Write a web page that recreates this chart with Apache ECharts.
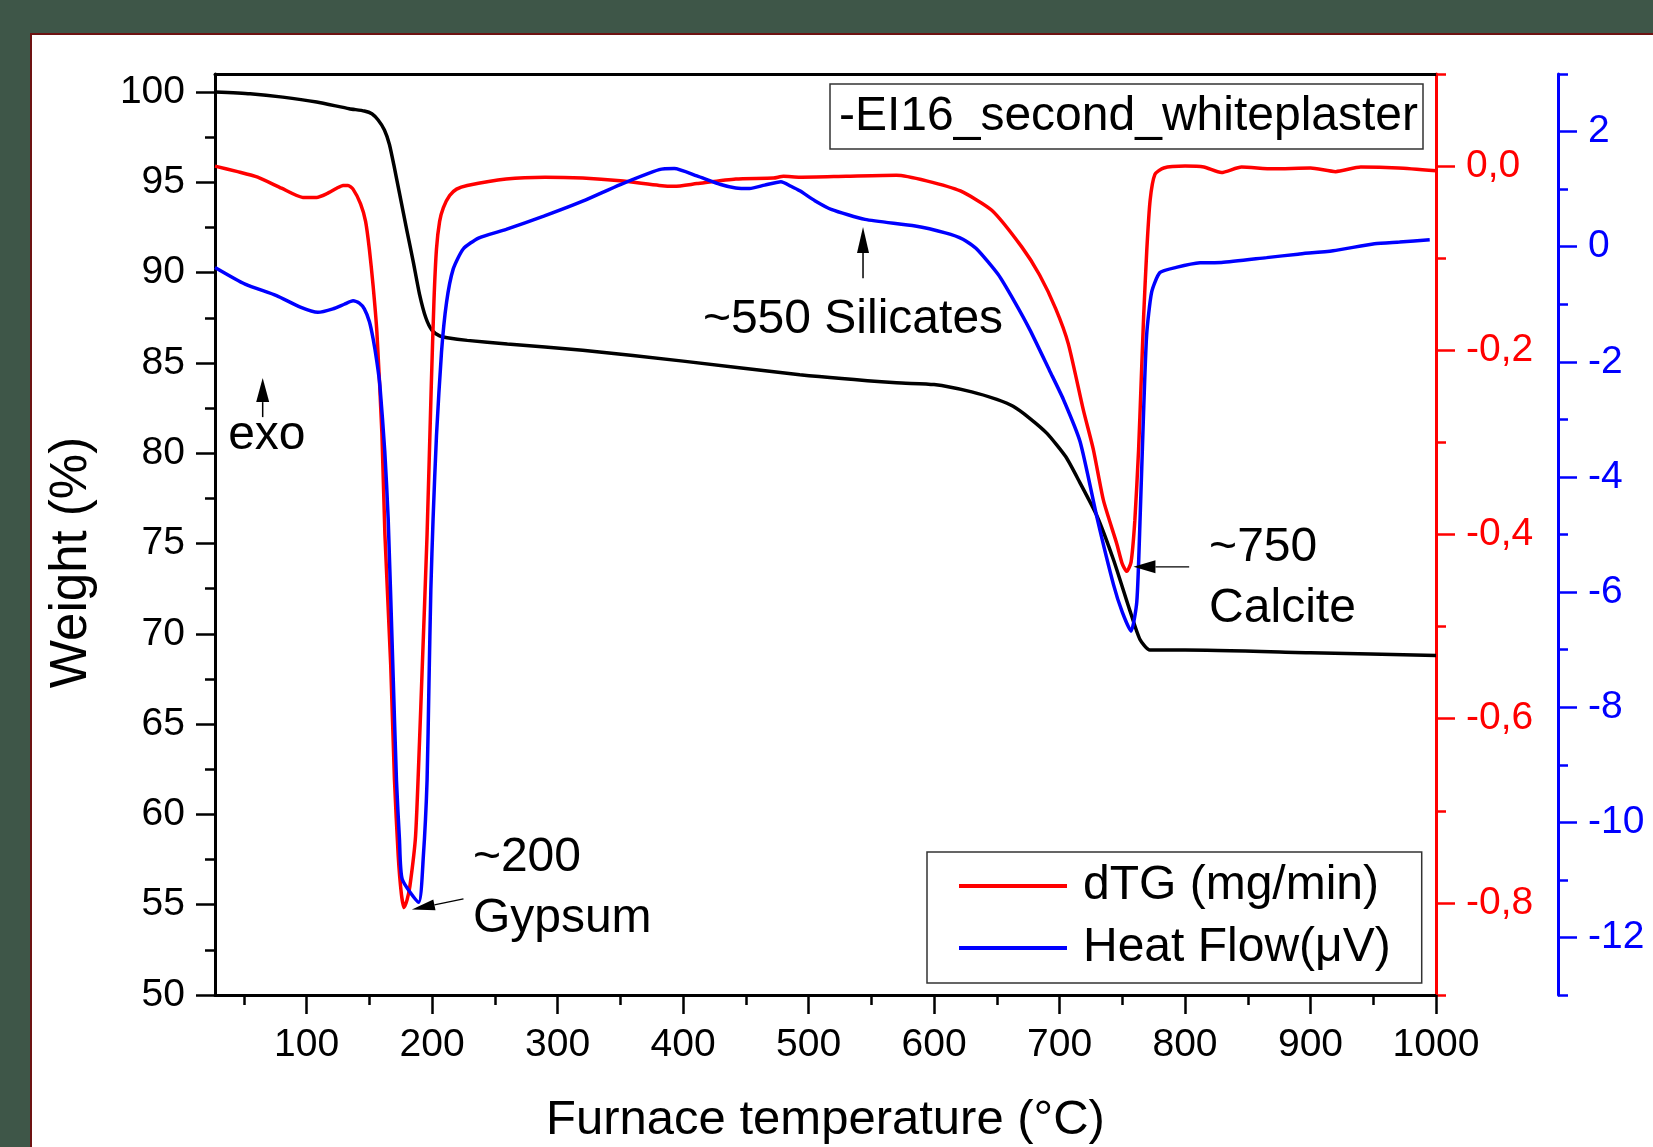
<!DOCTYPE html>
<html>
<head>
<meta charset="utf-8">
<script src="https://cdn.jsdelivr.net/npm/echarts@6/dist/echarts.min.js"></script>
<style>
html,body{margin:0;padding:0;width:1653px;height:1147px;overflow:hidden;background:#3e5648;}
#panel{position:absolute;left:30px;top:33px;width:1623px;height:1114px;background:#fff;border-left:2px solid #6e1212;border-top:2px solid #6e1212;box-sizing:border-box;}
#c{position:absolute;left:0;top:0;width:1653px;height:1147px;}
</style>
</head>
<body>
<div id="panel"></div>
<div id="c"></div>
<script>
// ---------- data ----------
const tempW = [27, 55, 81, 108, 134, 146, 152, 157, 162, 166, 170, 174, 180, 185, 190, 195, 200, 206, 212, 228, 260, 320, 400, 493, 570, 600, 630, 650, 663, 676, 690, 705, 716, 730, 743, 756, 764, 772, 800, 900, 1000];
const weight = [100.0, 99.9, 99.72, 99.45, 99.08, 98.95, 98.8, 98.45, 97.9, 97.1, 95.8, 94.4, 92.3, 90.6, 88.8, 87.5, 86.8, 86.5, 86.4, 86.25, 86.05, 85.7, 85.1, 84.35, 83.9, 83.8, 83.4, 82.98, 82.6, 81.95, 81.1, 79.8, 78.4, 76.5, 74.1, 71.3, 69.7, 69.1, 69.1, 68.95, 68.8];

const tempD = [27, 45, 61, 80, 97, 108, 116, 124, 129, 133, 137, 143, 147, 150, 153, 156, 160, 162.4, 167, 170, 173, 175.5, 177.6, 180, 182.3, 186.8, 190, 192, 196, 199.4, 201.5, 203.5, 206, 209, 214, 219.5, 228, 259, 290, 320, 350, 381, 393, 411, 442, 472, 480, 493, 530, 570, 594, 621, 646, 670, 684, 697, 707, 719, 727, 735, 745.6, 750, 753.6, 757, 760, 763, 765, 767, 769.5, 772.2, 776, 783, 800, 815, 829, 845, 870, 900, 920, 940, 970, 1000];
const dtg = [0.0, -0.006, -0.012, -0.024, -0.034, -0.034, -0.030, -0.024, -0.021, -0.021, -0.025, -0.041, -0.06, -0.09, -0.13, -0.18, -0.29, -0.40, -0.541, -0.666, -0.749, -0.79, -0.805, -0.797, -0.782, -0.728, -0.624, -0.55, -0.40, -0.236, -0.146, -0.09, -0.06, -0.045, -0.032, -0.025, -0.021, -0.014, -0.012, -0.013, -0.016, -0.021, -0.022, -0.019, -0.014, -0.013, -0.011, -0.012, -0.011, -0.010, -0.016, -0.027, -0.048, -0.088, -0.118, -0.155, -0.193, -0.265, -0.308, -0.363, -0.41, -0.432, -0.44, -0.43, -0.385, -0.308, -0.236, -0.164, -0.092, -0.037, -0.009, -0.002, 0.0, -0.001, -0.007, -0.001, -0.003, -0.002, -0.006, -0.001, -0.002, -0.005];

const tempH = [27, 51, 76, 95, 109, 121, 130, 137, 142, 146, 150, 153, 156, 158.4, 162.3, 165, 168.6, 171.6, 174, 176.2, 189.3, 193, 196, 197.5, 199, 200.8, 203.5, 207.5, 211.5, 216.8, 224.8, 237, 259, 289, 320, 350, 381, 393, 411, 430, 442, 453, 465, 478, 486, 493, 505, 518, 545, 585, 609, 623, 634, 651, 664, 676.5, 692, 703, 716.4, 730, 743, 750, 757, 761.6, 764.2, 766.8, 769.4, 773.4, 780, 793, 812, 829, 865, 890, 918, 951, 971, 995];
const heat = [-0.36, -0.65, -0.85, -1.05, -1.14, -1.08, -1.0, -0.94, -0.98, -1.08, -1.3, -1.6, -2.0, -2.41, -3.56, -4.72, -7.2, -9.27, -10.3, -10.99, -11.39, -10.6, -9.27, -7.6, -5.96, -4.72, -3.28, -1.83, -0.97, -0.39, -0.04, 0.15, 0.30, 0.53, 0.79, 1.08, 1.34, 1.36, 1.23, 1.08, 1.02, 1.01, 1.07, 1.13, 1.05, 0.97, 0.80, 0.65, 0.475, 0.36, 0.24, 0.13, -0.04, -0.48, -0.95, -1.45, -2.15, -2.65, -3.39, -4.72, -5.87, -6.35, -6.68, -6.16, -4.72, -2.99, -1.54, -0.79, -0.45, -0.36, -0.28, -0.275, -0.19, -0.13, -0.07, 0.05, 0.08, 0.12];

// tick values
const xMajor = [100, 200, 300, 400, 500, 600, 700, 800, 900, 1000];
const xMinor = [50, 150, 250, 350, 450, 550, 650, 750, 850, 950];
const wMajor = [50, 55, 60, 65, 70, 75, 80, 85, 90, 95, 100];
const wMinor = [52.5, 57.5, 62.5, 67.5, 72.5, 77.5, 82.5, 87.5, 92.5, 97.5];
const dMajor = [-0.8, -0.6, -0.4, -0.2, 0];
const dMinor = [-0.9, -0.7, -0.5, -0.3, -0.1, 0.1];
const hMajor = [-12, -10, -8, -6, -4, -2, 0, 2];
const hMinor = [-13, -11, -9, -7, -5, -3, -1, 1, 3];

const sampleName = '-EI16_second_whiteplaster';
const dtgName = 'dTG (mg/min)';
const heatName = 'Heat Flow(μV)';

// ---------- chart ----------
const FONT = '"Liberation Sans", Arial, sans-serif';
const TICK_FS = 39;
const pairs = (xs, ys) => xs.map((x, i) => [x, ys[i]]);
const plain = v => String(Math.round(v * 1000) / 1000);

function majorAxis(color, values, extra) {
  return Object.assign({
    type: 'value',
    axisLine: { show: true, onZero: false, lineStyle: { color: color, width: 3 } },
    axisTick: { show: true, customValues: values, length: 19, lineStyle: { color: color, width: 2.5 } },
    axisLabel: { show: true, customValues: values, fontSize: TICK_FS, color: color, fontFamily: FONT, formatter: plain },
    splitLine: { show: false }
  }, extra);
}
function minorAxis(color, values, extra) {
  return Object.assign({
    type: 'value',
    axisLine: { show: false, onZero: false },
    axisTick: { show: true, customValues: values, length: 10, lineStyle: { color: color, width: 2.5 } },
    axisLabel: { show: false },
    splitLine: { show: false }
  }, extra);
}

const option = {
  animation: false,
  grid: { left: 215, top: 74, width: 1221, height: 921, containLabel: false, outerBoundsMode: 'none' },
  xAxis: [
    majorAxis('#000', xMajor, {
      min: 27, max: 1000, position: 'bottom',
      axisLabel: { customValues: xMajor, fontSize: TICK_FS, color: '#000', fontFamily: FONT, margin: 31, formatter: plain },
      name: 'Furnace temperature (°C)', nameLocation: 'middle', nameGap: 101,
      nameTextStyle: { fontSize: 49, color: '#000', fontFamily: FONT }
    }),
    minorAxis('#000', xMinor, { min: 27, max: 1000, position: 'bottom' }),
    { type: 'value', min: 27, max: 1000, position: 'top', axisLine: { show: true, onZero: false, lineStyle: { color: '#000', width: 3 } },
      axisTick: { show: false }, axisLabel: { show: false }, splitLine: { show: false } }
  ],
  yAxis: [
    majorAxis('#000', wMajor, {
      min: 50, max: 101, position: 'left',
      axisLabel: { customValues: wMajor, fontSize: TICK_FS, color: '#000', fontFamily: FONT, margin: 30, formatter: plain },
      name: 'Weight (%)', nameLocation: 'middle', nameRotate: 90, nameGap: 118,
      nameTextStyle: { fontSize: 51, color: '#000', fontFamily: FONT, padding: [0, 56, 0, 0] }
    }),
    majorAxis('#ff0000', dMajor, {
      min: -0.9, max: 0.1, position: 'right', offset: 0,
      axisLabel: { customValues: dMajor, fontSize: TICK_FS, color: '#ff0000', fontFamily: FONT, margin: 30,
        formatter: v => (Math.abs(v) < 1e-9 ? '0,0' : Number(v).toFixed(1).replace('.', ',')) }
    }),
    minorAxis('#ff0000', dMinor, { min: -0.9, max: 0.1, position: 'right', offset: 0 }),
    majorAxis('#0000ff', hMajor, {
      min: -13, max: 3, position: 'right', offset: 122,
      axisLabel: { customValues: hMajor, fontSize: TICK_FS, color: '#0000ff', fontFamily: FONT, margin: 30, formatter: plain }
    }),
    minorAxis('#0000ff', hMinor, { min: -13, max: 3, position: 'right', offset: 122 }),
    minorAxis('#000', wMinor, { min: 50, max: 101, position: 'left' })
  ],
  legend: {
    data: [dtgName, heatName],
    orient: 'vertical', left: 927, top: 852,
    backgroundColor: '#fff',
    borderColor: '#333', borderWidth: 1.5,
    padding: [10, 31, 11, 32],
    itemWidth: 108, itemHeight: 4, itemGap: 14,
    icon: 'rect',
    textStyle: { fontSize: 48, color: '#000', fontFamily: FONT, padding: [0, 0, 0, 11] }
  },
  series: [
    { name: 'Weight', type: 'line', xAxisIndex: 0, yAxisIndex: 0, data: pairs(tempW, weight),
      smooth: 0.2,
      showSymbol: false, symbol: 'none', lineStyle: { color: '#000', width: 3.5 }, itemStyle: { color: '#000' }, z: 3 },
    { name: dtgName, type: 'line', xAxisIndex: 0, yAxisIndex: 1, data: pairs(tempD, dtg),
      smooth: 0.2,
      showSymbol: false, symbol: 'none', lineStyle: { color: '#ff0000', width: 3.5 }, itemStyle: { color: '#ff0000' }, z: 4 },
    { name: heatName, type: 'line', xAxisIndex: 0, yAxisIndex: 3, data: pairs(tempH, heat),
      smooth: 0.2,
      showSymbol: false, symbol: 'none', lineStyle: { color: '#0000ff', width: 3.5 }, itemStyle: { color: '#0000ff' }, z: 5 }
  ]
};

const chart = echarts.init(document.getElementById('c'), null, { renderer: 'canvas' });
chart.setOption(option);

// ---------- annotations (anchored in temperature / weight coordinates) ----------
const texts = [
  { t: 37.5, w: 80.95, s: 'exo' },
  { t: 232.5, w: 57.6, s: '~200' },
  { t: 232.5, w: 54.2, s: 'Gypsum' },
  { t: 415.8, w: 87.4, s: '~550 Silicates' },
  { t: 819.2, w: 74.75, s: '~750' },
  { t: 819.2, w: 71.4, s: 'Calcite' }
];
const arrows = [
  { from: [65, 82.0], to: [65, 84.16], head: 24, hw: 13, lw: 1.5 },
  { from: [225, 55.32], to: [183.9, 54.73], head: 23, hw: 11, lw: 1.3 },
  { from: [543.4, 89.69], to: [543.4, 92.53], head: 26, hw: 12, lw: 1.5 },
  { from: [803.3, 73.71], to: [758.9, 73.71], head: 22, hw: 13, lw: 1.3 }
];
const px = (t, w) => chart.convertToPixel({ xAxisIndex: 0, yAxisIndex: 0 }, [t, w]);
const g = [];
texts.forEach(a => {
  const p = px(a.t, a.w);
  g.push({ type: 'text', x: p[0], y: p[1], z: 10,
    style: { text: a.s, fontSize: 48, fontFamily: FONT, fill: '#000', align: 'left', verticalAlign: 'middle' } });
});
arrows.forEach(a => {
  const p0 = px(a.from[0], a.from[1]);
  const p1 = px(a.to[0], a.to[1]);
  const dx = p1[0] - p0[0], dy = p1[1] - p0[1];
  const L = Math.hypot(dx, dy);
  const ux = dx / L, uy = dy / L;
  const bx = p1[0] - ux * a.head, by = p1[1] - uy * a.head;
  const nx = -uy, ny = ux;
  g.push({ type: 'line', z: 10, shape: { x1: p0[0], y1: p0[1], x2: bx, y2: by }, style: { stroke: '#000', lineWidth: a.lw } });
  g.push({ type: 'polygon', z: 10, shape: { points: [[p1[0], p1[1]], [bx + nx * a.hw / 2, by + ny * a.hw / 2], [bx - nx * a.hw / 2, by - ny * a.hw / 2]] },
    style: { fill: '#000' } });
});
// sample name box (top right of plot)
g.push({ type: 'rect', z: 10, shape: { x: 830, y: 84, width: 593, height: 65 }, style: { fill: '#fff', stroke: '#333', lineWidth: 1.5 } });
g.push({ type: 'text', z: 11, x: 839, y: 117, style: { text: sampleName, fontSize: 48, fontFamily: FONT, fill: '#000', align: 'left', verticalAlign: 'middle' } });

chart.setOption({ graphic: g });
</script>
</body>
</html>
